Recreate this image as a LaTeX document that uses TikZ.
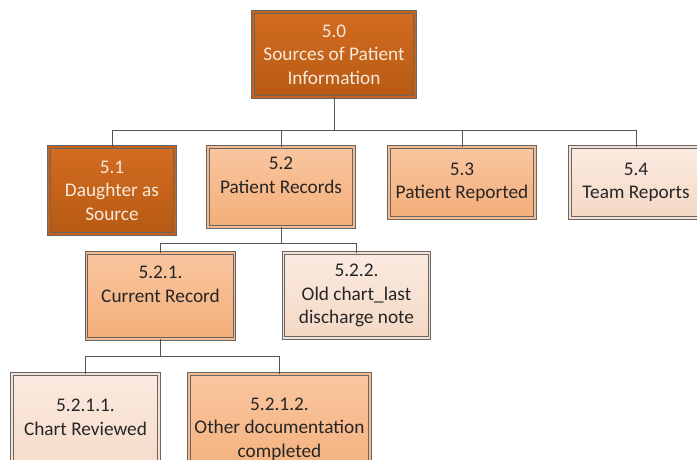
\documentclass[tikz,border=0pt]{standalone}
\usepackage{fontspec}
\setmainfont{Carlito}
\usetikzlibrary{shadows}
\definecolor{darkTop}{HTML}{D26C21}
\definecolor{darkBot}{HTML}{B85A13}
\definecolor{darkMid}{HTML}{C5631A}
\definecolor{midTop}{HTML}{F9C6A0}
\definecolor{midBot}{HTML}{F4AE79}
\definecolor{midMid}{HTML}{F6BA8C}
\definecolor{lightTop}{HTML}{FBEBE0}
\definecolor{lightBot}{HTML}{F4D8C5}
\definecolor{lightMid}{HTML}{F8E1D2}
\definecolor{edge}{HTML}{666666}
\definecolor{wire}{HTML}{555555}
\definecolor{inkDark}{HTML}{262626}
\definecolor{inkLight}{HTML}{F7E9DC}
\tikzset{
  box/.style={draw=edge, line width=0.8pt, double distance=1.8pt,
    align=center, inner sep=0pt,
    font=\fontsize{19.3}{23.5}\selectfont,
    general shadow={fill=black!22, shadow xshift=1.8pt, shadow yshift=-1.8pt}},
  darkbox/.style={box, top color=darkTop, bottom color=darkBot, double=darkMid, text=inkLight},
  midbox/.style={box, top color=midTop, bottom color=midBot, double=midMid, text=inkDark},
  lightbox/.style={box, top color=lightTop, bottom color=lightBot, double=lightMid, text=inkDark},
  wirestyle/.style={draw=wire, line width=0.9pt}
}
\begin{document}
\begin{tikzpicture}[x=1pt, y=-1pt]
\useasboundingbox (0,0) rectangle (697,459);
\clip (0,0) rectangle (697,459);
\fill[white] (0,0) rectangle (697,459);

% bus lines of each level
\coordinate (busA) at (0,130);
\coordinate (busB) at (0,243);
\coordinate (busC) at (0,356);

\node[darkbox, minimum width=162pt, minimum height=85pt] (root) at (334,54.5) {5.0\\Sources of Patient\\Information};
\node[darkbox, minimum width=126pt, minimum height=87pt] (n51) at (112,190.5) {5.1\\Daughter as\\Source};
\node[midbox, minimum width=146pt, minimum height=80pt] (n52) at (281,187) {5.2\\Patient Records\\\mbox{}};
\node[midbox, minimum width=146pt, minimum height=71pt] (n53) at (462,182.5) {5.3\\Patient Reported};
\node[lightbox, minimum width=132pt, minimum height=71pt] (n54) at (636,182.5) {5.4\\Team Reports};
\node[midbox, minimum width=148pt, minimum height=86pt] (n521) at (160.5,296) {5.2.1.\\Current Record\\\mbox{}};
\node[lightbox, minimum width=146pt, minimum height=85pt] (n522) at (356.5,295.5) {5.2.2.\\Old chart\_last\\discharge note};
\node[lightbox, minimum width=147pt, minimum height=110pt] (n5211) at (85.5,429) {5.2.1.1.\\Chart Reviewed\\\mbox{}};
\node[midbox, minimum width=181pt, minimum height=110pt] (n5212) at (279.5,429) {5.2.1.2.\\Other documentation\\completed};

% elbow connectors from each parent down to its children
\foreach \c in {n51,n52,n53,n54}
  \draw[wirestyle] (root.south) |- (busA -| \c.north) -- (\c.north);
\foreach \c in {n521,n522}
  \draw[wirestyle] (n52.south) |- (busB -| \c.north) -- (\c.north);
\foreach \c in {n5211,n5212}
  \draw[wirestyle] (n521.south) |- (busC -| \c.north) -- (\c.north);
\end{tikzpicture}
\end{document}
